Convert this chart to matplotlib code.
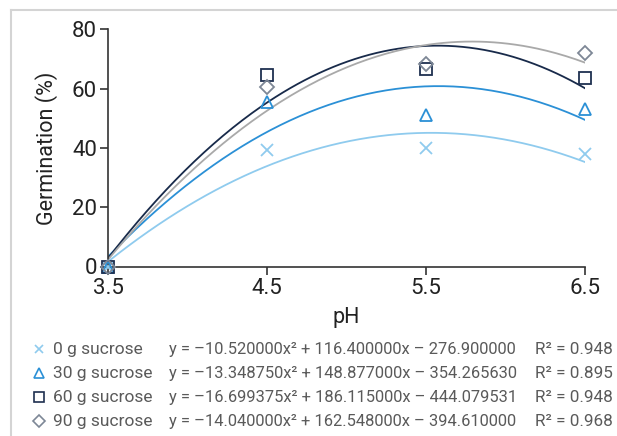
import numpy as np
import matplotlib
matplotlib.use("Agg")
import matplotlib.pyplot as plt
from matplotlib.lines import Line2D

plt.rcParams['font.family'] = ['Roboto', 'DejaVu Sans']

# observed germination (%) at each pH
ph = [3.5, 4.5, 5.5, 6.5]
germ_0 = [0, 39.4, 40.1, 37.9]
germ_30 = [0, 55.6, 51.2, 53.2]
germ_60 = [0, 64.5, 66.7, 63.5]
germ_90 = [0, 60.4, 68.4, 72.1]

# quadratic trendline coefficients (a, b, c) and r2
coef_0 = [-10.520000, 116.400000, -276.900000]
coef_30 = [-13.348750, 148.877000, -354.265630]
coef_60 = [-16.699375, 186.115000, -444.079531]
coef_90 = [-14.040000, 162.548000, -394.610000]
r2 = [0.948, 0.895, 0.948, 0.968]

labels = ['0 g sucrose', '30 g sucrose', '60 g sucrose', '90 g sucrose']
equations = ['y = \u201310.520000x\u00b2 + 116.400000x \u2013 276.900000',
             'y = \u201313.348750x\u00b2 + 148.877000x \u2013 354.265630',
             'y = \u201316.699375x\u00b2 + 186.115000x \u2013 444.079531',
             'y = \u201314.040000x\u00b2 + 162.548000x \u2013 394.610000']

line_cols = ['#8fcbee', '#2b90d6', '#182a4a', '#a9a9a9']
mark_cols = ['#8fcbee', '#2b90d6', '#1f3050', '#7d8796']
markers = ['x', '^', 's', 'D']
msizes = [8, 9, 9, 7.5]

W, H = 617, 436
fig = plt.figure(figsize=(W / 100, H / 100), dpi=100)
ax = fig.add_axes([108 / W, 1 - 266.5 / H, (585 - 108) / W, (266.5 - 29.3) / H])

xs = np.linspace(3.5, 6.5, 200)
obs = [germ_0, germ_30, germ_60, germ_90]
coefs = [coef_0, coef_30, coef_60, coef_90]
for i in range(4):
    a, b, c = coefs[i]
    ax.plot(xs, a * xs**2 + b * xs + c, color=line_cols[i], lw=1.3, zorder=2)
    ax.plot(ph, obs[i], linestyle='none', marker=markers[i], ms=msizes[i],
            mfc='none', mec=mark_cols[i], mew=1.3, zorder=3, clip_on=False)

ax.set_xlim(3.5, 6.5)
ax.set_ylim(0, 80)
ax.set_xticks(ph)
ax.set_xticklabels(['3.5', '4.5', '5.5', '6.5'])
ax.set_yticks([0, 20, 40, 60, 80])
for s in ['top', 'right']:
    ax.spines[s].set_visible(False)
for s in ['left', 'bottom']:
    ax.spines[s].set_color('#333333')
    ax.spines[s].set_linewidth(1.2)
ax.tick_params(direction='out', length=6, width=1.2, color='#333333',
               labelsize=16, labelcolor='#222222', pad=2)
ax.set_xlabel('pH', fontsize=15.5, color='#222222', labelpad=6)
ax.set_ylabel('Germination (%)', fontsize=15.5, color='#222222', labelpad=10)

# legend rows drawn by hand
rows_y = [349, 373, 397, 421]
for i in range(4):
    yf = 1 - rows_y[i] / H
    ms = msizes[i] * 0.8
    fig.add_artist(Line2D([39 / W], [yf], transform=fig.transFigure,
                          marker=markers[i], ms=ms, mfc='none',
                          mec=mark_cols[i], mew=1.2, linestyle='none'))
    fig.text(53 / W, yf, labels[i], fontsize=12.5, color='#5a5a5a', va='center')
    fig.text(169 / W, yf, equations[i], fontsize=11.9, color='#5a5a5a', va='center')
    fig.text(613 / W, yf, 'R\u00b2 = %.3f' % r2[i], fontsize=12.3, color='#5a5a5a',
             va='center', ha='right')

# light frame at top and left
fig.add_artist(Line2D([11 / W, 11 / W], [0, 1 - 10 / H], transform=fig.transFigure,
                      color='#d4d4d4', lw=1.5))
fig.add_artist(Line2D([11 / W, 1], [1 - 10 / H, 1 - 10 / H], transform=fig.transFigure,
                      color='#d4d4d4', lw=1.5))

fig.savefig('out.png', dpi=100)
